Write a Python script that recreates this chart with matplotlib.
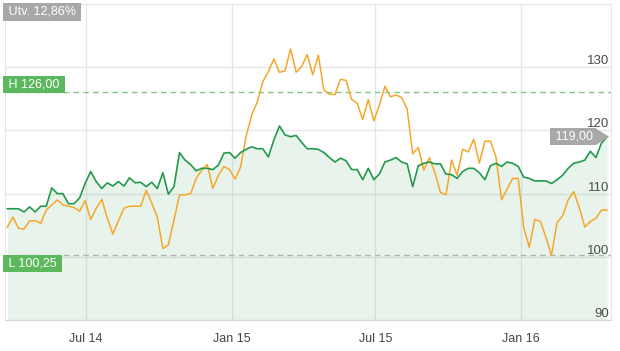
import matplotlib
matplotlib.use('Agg')
import matplotlib.pyplot as plt
import matplotlib.transforms as mtransforms
from matplotlib.patches import Polygon
import matplotlib.dates as mdates
import pandas as pd

plt.rcParams['font.family'] = ['Liberation Sans', 'DejaVu Sans']

# weekly values
start = '2014-03-24'
fund = [107.6, 107.6, 107.6, 107.1, 107.9, 107.1, 108.0, 108.0, 110.9, 110.0,
        110.0, 108.4, 108.4, 109.3, 111.6, 113.5, 111.9, 110.8, 111.7, 111.2,
        111.9, 111.2, 112.5, 111.7, 111.8, 111.1, 111.8, 110.8, 113.3, 109.9,
        111.1, 116.5, 115.3, 114.6, 113.6, 114.0, 114.0, 113.8, 114.5, 116.4,
        116.5, 115.6, 116.5, 117.0, 117.4, 117.1, 117.1, 115.8, 118.5, 120.7,
        119.3, 119.0, 119.2, 118.1, 117.1, 117.1, 117.0, 116.5, 115.7, 115.0,
        115.6, 115.2, 113.8, 113.8, 112.2, 114.0, 112.2, 113.1, 115.0, 115.3,
        115.7, 115.0, 114.7, 111.1, 114.4, 114.8, 115.0, 114.7, 114.7, 113.1,
        113.0, 112.4, 113.5, 114.0, 114.0, 113.3, 112.2, 114.4, 114.8, 114.3,
        115.0, 114.8, 114.3, 112.6, 112.4, 112.0, 112.0, 112.0, 111.6, 112.2,
        112.9, 114.0, 114.8, 115.0, 115.3, 116.7, 115.7, 118.0, 119.0]
index = [104.7, 106.3, 104.5, 104.4, 105.7, 105.7, 105.3, 107.4, 108.2, 109.0,
         108.2, 108.0, 107.8, 107.2, 108.9, 105.9, 107.7, 109.1, 106.1, 103.6,
         105.7, 107.7, 108.0, 108.0, 108.0, 110.5, 108.5, 106.3, 101.3, 101.9,
         105.8, 109.8, 109.8, 110.0, 112.4, 113.7, 114.6, 110.8, 112.9, 114.3,
         113.8, 112.3, 114.2, 119.1, 122.4, 124.5, 127.7, 129.3, 131.3, 129.2,
         129.4, 132.9, 129.2, 130.1, 132.0, 128.8, 131.9, 126.4, 125.7, 125.7,
         128.1, 127.9, 124.9, 124.3, 121.7, 124.9, 121.5, 124.0, 127.0, 125.3,
         125.6, 125.2, 123.4, 116.3, 117.3, 113.7, 115.7, 113.3, 110.2, 109.8,
         115.3, 112.9, 117.0, 116.6, 118.6, 114.8, 118.3, 118.3, 115.8, 109.0,
         110.7, 112.4, 112.4, 104.6, 101.5, 105.9, 105.6, 103.1, 100.25, 105.4,
         106.5, 109.0, 110.3, 107.8, 104.7, 105.6, 106.1, 107.4, 107.4]

tick_dates = ['2014-07-01', '2015-01-01', '2015-07-01', '2016-01-01']
tick_labels = ['Jul 14', 'Jan 15', 'Jul 15', 'Jan 16']
y_ticks = [90, 100, 110, 120, 130]
high = 126.00
low = 100.25
high_text = 'H 126,00'
low_text = 'L 100,25'
change_text = 'Utv. 12,86%'
last_text = '119,00'

GREEN = '#23994b'
ORANGE = '#f6a72a'
TAG_GREEN = '#5cb85c'
TAG_GRAY = '#a8a8a8'
TS = '\u2009'  # thin space used as side padding in the tags

dates = pd.date_range(start, periods=len(fund), freq='7D')

fig = plt.figure(figsize=(6.2, 3.51), dpi=100)
ax = fig.add_axes([5/620, 31/351, 606/620, 316/351])

ax.fill_between(dates, fund, 90, color='#2e9e50', alpha=0.11, lw=0, zorder=1)
ax.plot(dates, index, color=ORANGE, lw=1.1, zorder=3)
ax.plot(dates, fund, color=GREEN, lw=1.2, zorder=4)

ax.axhline(high, color='#7dc98d', lw=1, ls=(0, (4, 3)), zorder=2)
ax.axhline(low, color='#b3b3b3', lw=1, ls=(0, (4, 3)), zorder=2)

ax.set_xlim(pd.Timestamp('2014-03-21'), pd.Timestamp('2016-04-23'))
ax.set_ylim(90, 140)
ax.set_xticks(pd.to_datetime(tick_dates))
ax.set_xticklabels(tick_labels)
ax.set_yticks(y_ticks)

ax.grid(True, color='#e6e6e6', lw=1)
ax.set_axisbelow(True)
for side in ['top', 'left', 'right']:
    ax.spines[side].set_color('#e6e6e6')
ax.spines['bottom'].set_color('#d3d9dd')

ax.tick_params(axis='x', length=0, pad=9, labelsize=9, labelcolor='#444444')
ax.yaxis.tick_right()
ax.tick_params(axis='y', length=0, pad=-1.5, labelsize=9.5, labelcolor='#4a4a4a')
for lbl in ax.get_yticklabels():
    lbl.set_ha('right')
    lbl.set_va('bottom')

# tags on the left edge
left_y = mtransforms.blended_transform_factory(ax.transAxes, ax.transData)


def tag(x, y, text, color, dx, dy, trans):
    tr = mtransforms.offset_copy(trans, fig=fig, x=dx, y=dy, units='dots')
    ax.text(x, y, TS + text + TS, transform=tr, ha='left', va='center', color='white',
            fontsize=9, bbox=dict(boxstyle='square,pad=0.22', fc=color, ec='none'),
            zorder=6, clip_on=False)


tag(0, high, high_text, TAG_GREEN, 1, 8, left_y)
tag(0, low, low_text, TAG_GREEN, 1, -8.5, left_y)
tag(0, 1, change_text, TAG_GRAY, 1, -8, ax.transAxes)

# last value tag with arrow
xl = mdates.date2num(dates[-1])
yl = fund[-1]
tr = mtransforms.offset_copy(ax.transData, fig=fig, x=-14, y=0, units='dots')
ax.text(dates[-1], yl, TS + last_text, transform=tr, ha='right', va='center',
        color='white', fontsize=9,
        bbox=dict(boxstyle='square,pad=0.22', fc=TAG_GRAY, ec='none'), zorder=6)
arrow_tr = fig.dpi_scale_trans + mtransforms.ScaledTranslation(xl, yl, ax.transData)
ax.add_patch(Polygon([(-0.115, -0.085), (-0.115, 0.085), (0.02, 0.0)], closed=True,
                     fc=TAG_GRAY, ec='none', transform=arrow_tr, zorder=6, clip_on=False))

fig.savefig('out.png', dpi=100)
